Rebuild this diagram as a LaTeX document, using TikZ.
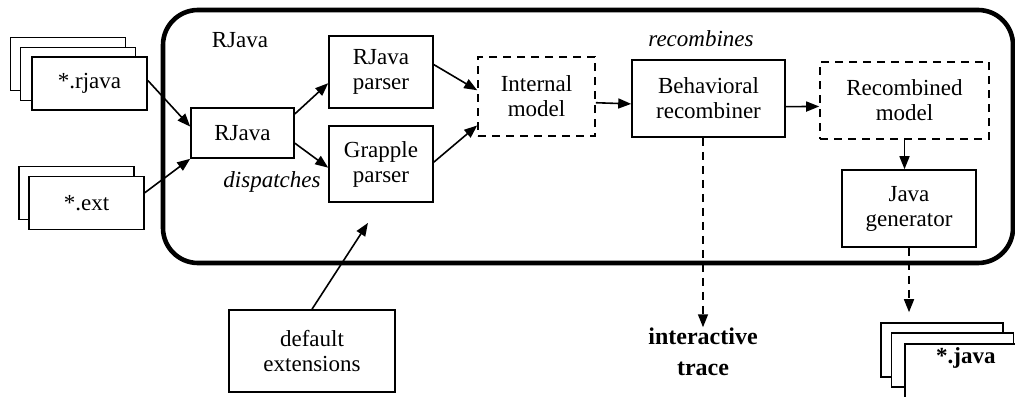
\documentclass[tikz,border=0pt]{standalone}
\usepackage{fontspec}
\setmainfont{LiberationSerif}[Extension=.ttf, UprightFont=*-Regular, BoldFont=*-Bold, ItalicFont=*-Italic, BoldItalicFont=*-BoldItalic]
\usetikzlibrary{arrows.meta, positioning}

\begin{document}
\begin{tikzpicture}[x=0.5pt, y=-0.5pt, >={Triangle[length=6.5pt, width=5pt]}, line width=0.8pt,
    every node/.style={font=\rmfamily\fontsize{11.5}{12.5}\selectfont, align=center, inner sep=0pt},
    box/.style={draw, rectangle, fill=white},
    model/.style={box, dash pattern=on 4pt off 3pt},
    file/.style={box, minimum width=57.5pt, minimum height=26.5pt},
    note/.style={font=\rmfamily\fontsize{11.5}{12.5}\selectfont\itshape},
    flow/.style={->},
    dashflow/.style={->, dash pattern=on 4pt off 3pt}]
    \useasboundingbox (0,0) rectangle (1015,396);
    \clip (0,0) rectangle (1015,396);

    \node[draw, line width=2.3pt, rounded corners=17.5pt, minimum width=425pt, minimum height=126.5pt] (sys) at (588,136.5) {};
    \node (title) at (240,40) {RJava};

    \node[file] (rjavaA) at (68,64) {};
    \node[file] (rjavaB) at (78,74) {};
    \node[file] (rjavaC) at (89.5,83.5) {*.rjava};
    \node[file] (extA) at (76.5,193) {};
    \node[file] (extB) at (86.5,203) {*.ext};

    \node[box, minimum width=51.5pt, minimum height=25pt] (disp) at (242.5,133) {RJava};
    \node[box, minimum width=52pt, minimum height=36pt] (rpar) at (381,72) {RJava\\parser};
    \node[box, minimum width=52pt, minimum height=38pt] (gpar) at (381,164) {Grapple\\parser};
    \node[model, minimum width=58.5pt, minimum height=39.5pt] (int) at (536.5,96.5) {Internal\\model};
    \node[box, minimum width=76.5pt, minimum height=38.5pt] (beh) at (708.5,98.5) {Behavioral\\recombiner};
    \node[model, minimum width=84.5pt, minimum height=38.5pt] (rec) at (904.5,100.5) {Recombined\\model};
    \node[box, minimum width=67pt, minimum height=38.5pt] (gen) at (909,208.5) {Java\\generator};
    \node[box, minimum width=83pt, minimum height=41pt] (defext) at (312,351) {default\\extensions};

    \node[note] (dispatch) at (272,182) {dispatches};
    \node[note] (recomb) at (701,39) {recombines};
    \node[font=\rmfamily\fontsize{12}{15.5}\selectfont\bfseries] (trace) at (703,352) {interactive\\trace};

    \node[file, minimum width=61pt, minimum height=27pt] (javaA) at (942,350) {};
    \node[file, minimum width=61pt, minimum height=27pt] (javaB) at (952.5,360) {};
    \node[file, anchor=north west, minimum width=61pt, font=\rmfamily\fontsize{11.5}{12.5}\selectfont\bfseries,
          text height=7.5pt, text depth=16pt, inner ysep=2.25pt] (javaC) at (904,343) {*.java};

    \draw[flow] (rjavaC.3) -- (disp.173);
    \draw[flow] (extB.10) -- (disp.south west);
    \draw[flow] (disp.20) -- (rpar.192);
    \draw[flow] (disp.-11) -- (gpar.184);
    \draw[flow] (rpar.8) -- (int.174);
    \draw[flow] (gpar.2) -- (int.206);
    \draw[flow] (int.-6) -- (beh.184);
    \draw[flow] (beh.-6) -- (rec.184);
    \draw[flow] (rec.south) -- (rec.south |- gen.north);
    \draw[flow, shorten >=12pt] (defext.north) -- (gpar.south);
    \draw[dashflow] (beh.south -| trace.north) -- (trace.north);
    \draw[dashflow, shorten >=5pt] (gen.south) -- (gen.south |- javaA.north);
\end{tikzpicture}
\end{document}
